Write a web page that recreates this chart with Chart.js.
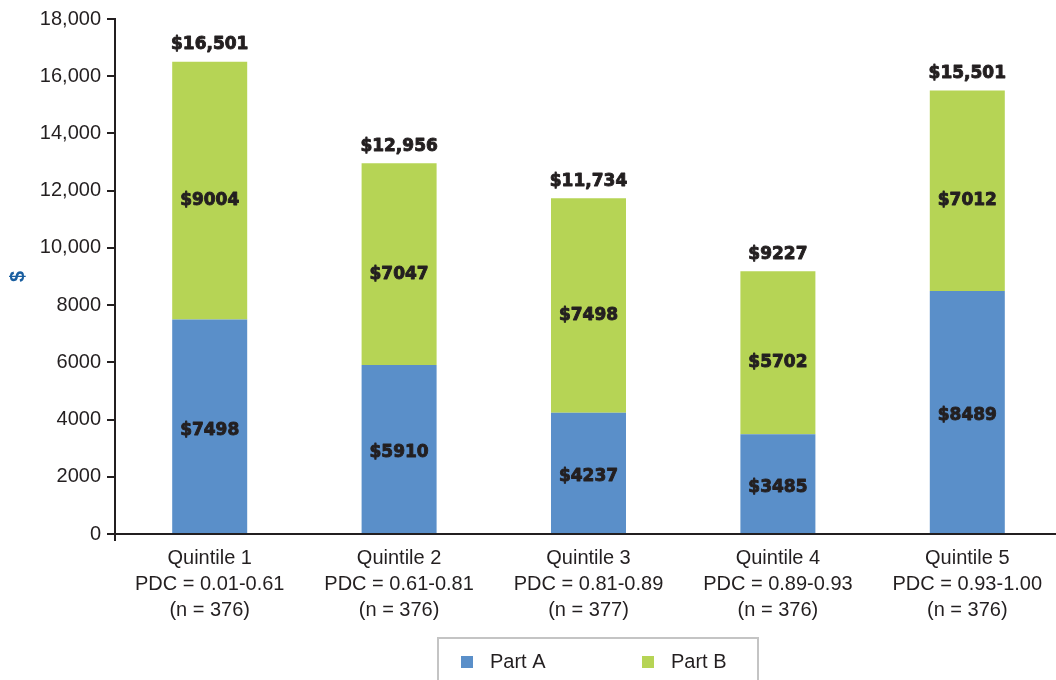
<!DOCTYPE html>
<html>
<head>
<meta charset="utf-8">
<script src="https://cdn.jsdelivr.net/npm/chart.js@4/dist/chart.umd.min.js"></script>
<style>
  html, body { margin: 0; padding: 0; background: #ffffff; overflow: hidden; }
  #wrap { width: 1064px; height: 680px; position: relative; }
</style>
</head>
<body>
<div id="wrap"><canvas id="c" width="1064" height="680"></canvas></div>
<script>
// ---- data ----
const categories = [
  ['Quintile 1', 'PDC = 0.01-0.61', '(n = 376)'],
  ['Quintile 2', 'PDC = 0.61-0.81', '(n = 376)'],
  ['Quintile 3', 'PDC = 0.81-0.89', '(n = 377)'],
  ['Quintile 4', 'PDC = 0.89-0.93', '(n = 376)'],
  ['Quintile 5', 'PDC = 0.93-1.00', '(n = 376)']
];
const partA = [7498, 5910, 4237, 3485, 8489];
const partB = [9004, 7047, 7498, 5702, 7012];
const totals = [16501, 12956, 11734, 9227, 15501];
const seriesNames = ['Part A', 'Part B'];
const yTickLabels = ['0', '2000', '4000', '6000', '8000', '10,000', '12,000', '14,000', '16,000', '18,000'];

// ---- styles ----
const TEXT = '#231f20';
const BLUE = '#5a8fc9';
const GREEN = '#b6d455';
const FONT = "'Liberation Sans', Arial, sans-serif";
const LABEL_FONT = "bold 17px 'DejaVu Sans', sans-serif";

function money(v) {
  return '$' + (v >= 10000 ? v.toLocaleString('en-US') : String(v));
}

function heavyText(ctx, txt, x, y) {
  ctx.strokeText(txt, x, y);
  ctx.fillText(txt, x, y);
}

const labelPlugin = {
  id: 'barLabels',
  afterDatasetsDraw(chart) {
    const ctx = chart.ctx;
    ctx.save();
    ctx.font = LABEL_FONT;
    ctx.fillStyle = TEXT;
    ctx.strokeStyle = TEXT;
    ctx.lineWidth = 0.9;
    ctx.lineJoin = 'round';
    ctx.textAlign = 'center';
    ctx.textBaseline = 'middle';
    const offsets = [4, 10];
    chart.data.datasets.forEach((ds, di) => {
      const meta = chart.getDatasetMeta(di);
      meta.data.forEach((el, i) => {
        const p = el.getProps(['x', 'y', 'base'], true);
        heavyText(ctx, money(ds.data[i]), p.x, (p.y + p.base) / 2 + offsets[di]);
      });
    });
    const topMeta = chart.getDatasetMeta(chart.data.datasets.length - 1);
    topMeta.data.forEach((el, i) => {
      const p = el.getProps(['x', 'y'], true);
      heavyText(ctx, money(totals[i]), p.x, p.y - 17);
    });
    // small tick below the axis crossing
    const a = chart.chartArea;
    ctx.lineWidth = 2;
    ctx.beginPath();
    ctx.moveTo(a.left, a.bottom);
    ctx.lineTo(a.left, a.bottom + 7);
    ctx.stroke();
    ctx.restore();
  },
  afterDraw(chart) {
    const ctx = chart.ctx;
    ctx.save();
    ctx.strokeStyle = '#c4c4c4';
    ctx.lineWidth = 2;
    ctx.strokeRect(438, 638, 320, 70);
    ctx.font = '20px ' + FONT;
    ctx.textAlign = 'left';
    ctx.textBaseline = 'middle';
    chart.data.datasets.forEach((ds, i) => {
      const x0 = 461 + i * 181;
      ctx.fillStyle = ds.backgroundColor;
      ctx.fillRect(x0, 656, 12, 12);
      ctx.fillStyle = TEXT;
      ctx.fillText(ds.label, x0 + 29, 662);
    });
    ctx.restore();
  }
};

new Chart(document.getElementById('c'), {
  type: 'bar',
  data: {
    labels: categories,
    datasets: [
      { label: seriesNames[0], data: partA, backgroundColor: BLUE },
      { label: seriesNames[1], data: partB, backgroundColor: GREEN }
    ]
  },
  options: {
    responsive: false,
    animation: false,
    devicePixelRatio: 1,
    layout: { padding: { left: 0, right: 2, top: 19, bottom: 46 } },
    datasets: { bar: { categoryPercentage: 1, barPercentage: 0.396 } },
    plugins: {
      legend: { display: false },
      tooltip: { enabled: false }
    },
    scales: {
      x: {
        stacked: true,
        offset: true,
        grid: { display: false, drawTicks: false },
        border: { display: true, color: TEXT, width: 2 },
        ticks: {
          color: TEXT,
          padding: 11,
          maxRotation: 0,
          autoSkip: false,
          font: { family: FONT, size: 20, lineHeight: 1.3 }
        }
      },
      y: {
        stacked: true,
        min: 0,
        max: 18000,
        afterFit(scale) { scale.width = 115; },
        grid: { drawOnChartArea: false, drawTicks: true, tickLength: 8, color: TEXT, lineWidth: 2 },
        border: { display: true, color: TEXT, width: 2 },
        ticks: {
          stepSize: 2000,
          color: TEXT,
          padding: 6,
          font: { family: FONT, size: 20 },
          callback: (v, i) => yTickLabels[i]
        },
        title: {
          display: true,
          text: '$',
          color: '#1a5fa0',
          padding: { top: 6, bottom: 0 },
          font: { family: FONT, size: 20, weight: 'bold' }
        }
      }
    }
  },
  plugins: [labelPlugin]
});
</script>
</body>
</html>
